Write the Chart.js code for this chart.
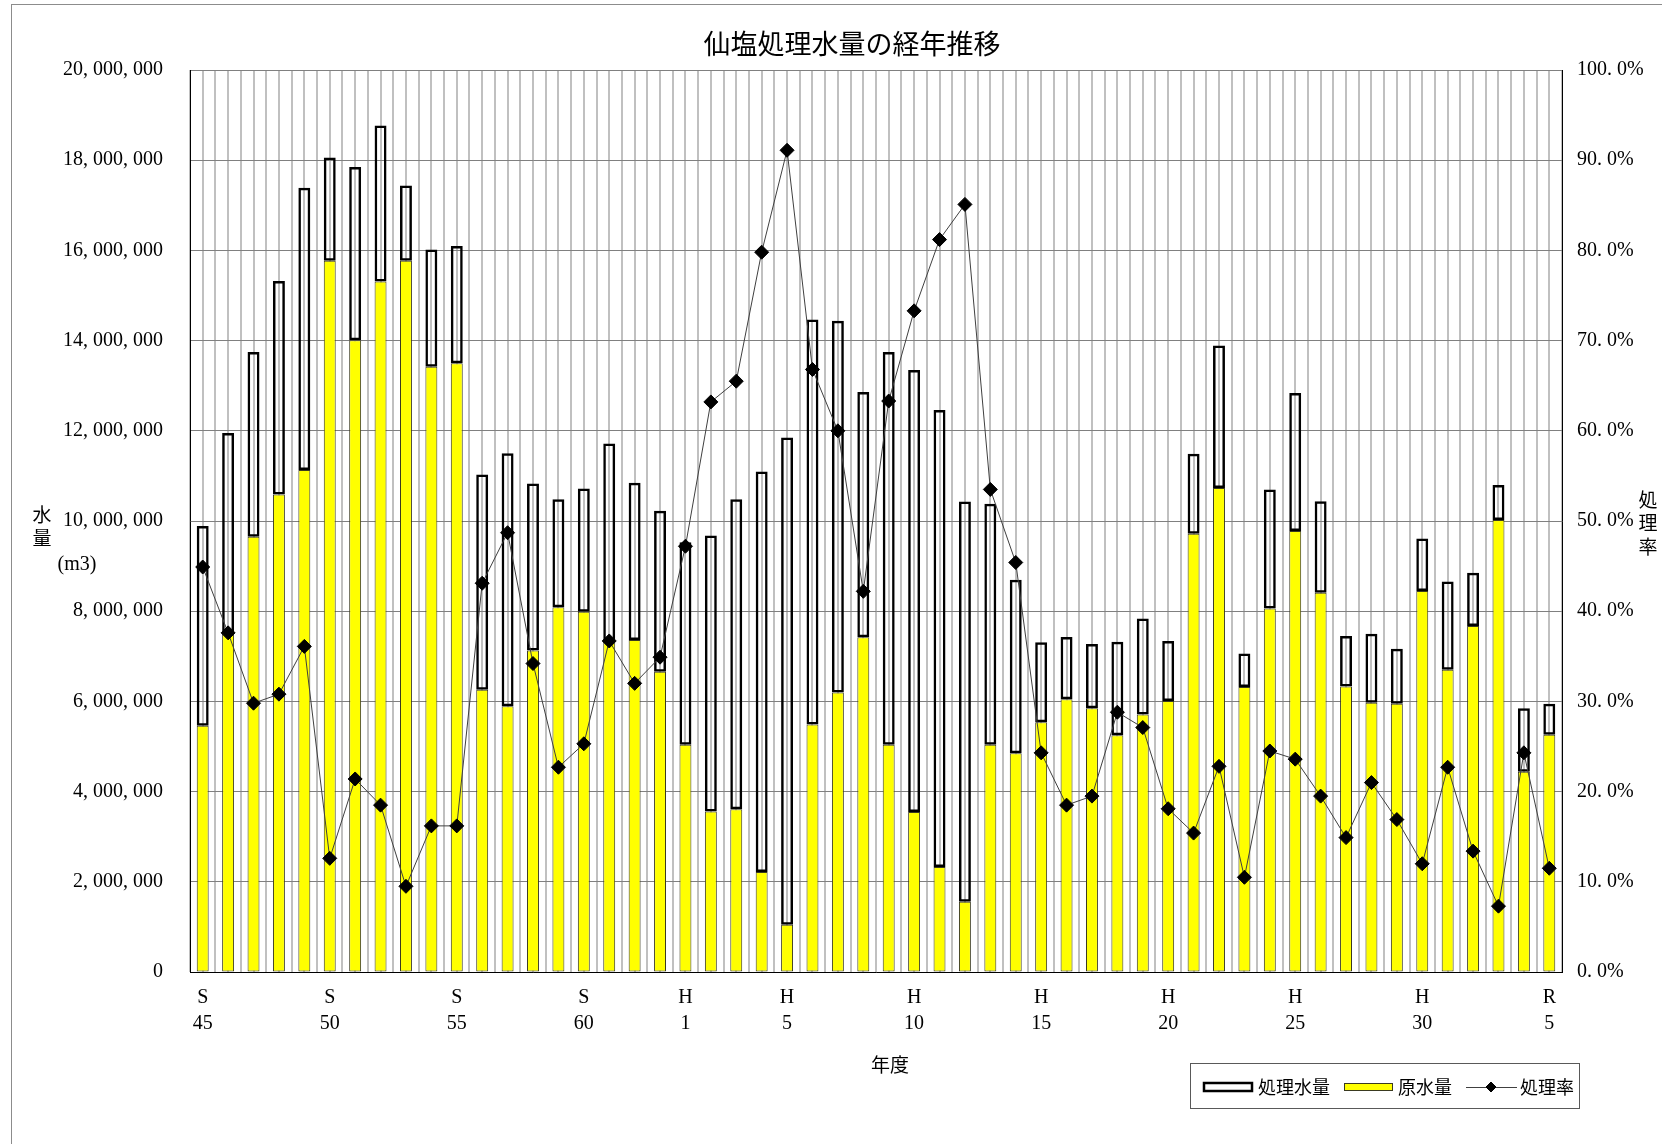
<!DOCTYPE html>
<html>
<head>
<meta charset="utf-8">
<script src="https://cdn.jsdelivr.net/npm/chart.js@4/dist/chart.umd.min.js"></script>
<style>
  body { margin: 0; background: #fff; }
  canvas { display: block; }
</style>
</head>
<body>
<canvas id="myChart" width="1662" height="1144"></canvas>
<script>
// 年度 (S45 - R5)
const years = [
  'S45','S46','S47','S48','S49','S50','S51','S52','S53','S54',
  'S55','S56','S57','S58','S59','S60','S61','S62','S63',
  'H1','H2','H3','H4','H5','H6','H7','H8','H9','H10',
  'H11','H12','H13','H14','H15','H16','H17','H18','H19','H20',
  'H21','H22','H23','H24','H25','H26','H27','H28','H29','H30',
  'R1','R2','R3','R4','R5'
];
const shownYears = ['S45','S50','S55','S60','H1','H5','H10','H15','H20','H25','H30','R5'];

// 原水量 (m3)
const rawWater = [
  5460000, 7530000, 9650000, 10590000, 11130000, 15770000, 14010000, 15310000, 15770000, 13420000,
  13500000, 6260000, 5890000, 7130000, 8090000, 7990000, 7340000, 7360000, 6660000, 5040000,
  3560000, 3610000, 2220000, 1050000, 5490000, 6200000, 7420000, 5040000, 3550000, 2330000,
  1560000, 5040000, 4850000, 5540000, 6050000, 5850000, 5250000, 5710000, 6010000, 9720000,
  10730000, 6320000, 8060000, 9780000, 8410000, 6330000, 5970000, 5950000, 8450000, 6700000,
  7670000, 10020000, 4440000, 5260000
];

// 処理水量 (m3)
const treatedWater = [
  4430000, 4420000, 4100000, 4730000, 6260000, 2290000, 3840000, 3460000, 1670000, 2600000,
  2600000, 4770000, 5610000, 3700000, 2390000, 2730000, 4380000, 3490000, 3570000, 4490000,
  6120000, 6870000, 8880000, 10800000, 8980000, 8240000, 5440000, 8710000, 9800000, 10130000,
  8870000, 5340000, 3850000, 1770000, 1380000, 1420000, 2070000, 2130000, 1330000, 1770000,
  3160000, 740000, 2640000, 3060000, 2030000, 1120000, 1530000, 1220000, 1160000, 1960000,
  1180000, 780000, 1410000, 690000
];

// 処理率 (%)
const treatRate = [
  44.9, 37.6, 29.8, 30.8, 36.1, 12.6, 21.4, 18.5, 9.5, 16.2,
  16.2, 43.1, 48.7, 34.2, 22.7, 25.3, 36.7, 32.0, 34.9, 47.2,
  63.2, 65.5, 79.8, 91.1, 66.8, 60.0, 42.2, 63.3, 73.3, 81.2,
  85.1, 53.5, 45.4, 24.3, 18.5, 19.5, 28.8, 27.1, 18.1, 15.4,
  22.8, 10.5, 24.5, 23.6, 19.5, 14.9, 21.0, 16.9, 12.0, 22.7,
  13.4, 7.3, 24.3, 11.5
];

const serif = '"Liberation Serif", "DejaVu Serif", serif';
const jp = '"Noto Sans CJK JP", sans-serif';
const gridGray = '#c0c0c0';

// 見出し・軸タイトル・凡例・外枠
const decorations = {
  id: 'decorations',
  beforeDraw(chart) {
    const ctx = chart.ctx;
    ctx.save();
    ctx.fillStyle = '#fff';
    ctx.fillRect(0, 0, chart.width, chart.height);
    ctx.restore();
  },
  afterDraw(chart) {
    const ctx = chart.ctx;
    const ds = chart.data.datasets;
    ctx.save();

    ctx.strokeStyle = '#8c8c8c';
    ctx.lineWidth = 1;
    ctx.strokeRect(11.5, 4.5, 1700, 1200);

    ctx.fillStyle = '#000';
    ctx.textAlign = 'center';
    ctx.textBaseline = 'middle';
    ctx.font = '27px ' + jp;
    ctx.fillText('仙塩処理水量の経年推移', 852, 44);

    ctx.font = '19px ' + jp;
    ctx.fillText('水', 42, 515);
    ctx.fillText('量', 42, 538);
    ctx.fillText('処', 1648, 500);
    ctx.fillText('理', 1648, 523);
    ctx.fillText('率', 1648, 547);
    ctx.fillText('年度', 890, 1065);
    ctx.font = '20px ' + serif;
    ctx.fillText('(m3)', 77, 565);

    // legend
    ctx.strokeStyle = '#595959';
    ctx.lineWidth = 1;
    ctx.strokeRect(1190.5, 1063.5, 389, 45);
    const cy = 1087;
    ctx.textAlign = 'left';
    ctx.font = '18px ' + jp;

    ctx.fillStyle = '#fff';
    ctx.fillRect(1204, cy - 4, 48, 8);
    ctx.strokeStyle = ds[1].borderColor;
    ctx.lineWidth = 2.5;
    ctx.strokeRect(1204, cy - 4, 48, 8);
    ctx.fillStyle = '#000';
    ctx.fillText(ds[1].label, 1258, cy);

    ctx.fillStyle = ds[0].backgroundColor;
    ctx.fillRect(1344, cy - 4, 49, 8);
    ctx.strokeStyle = ds[0].borderColor;
    ctx.lineWidth = 1;
    ctx.strokeRect(1344.5, cy - 3.5, 48, 7);
    ctx.fillStyle = '#000';
    ctx.fillText(ds[0].label, 1398, cy);

    ctx.strokeStyle = ds[2].borderColor;
    ctx.beginPath();
    ctx.moveTo(1466, cy + 0.5);
    ctx.lineTo(1517, cy + 0.5);
    ctx.stroke();
    ctx.fillStyle = '#000';
    ctx.strokeStyle = '#000';
    Chart.helpers.drawPoint(ctx, { pointStyle: 'rectRot', radius: 5, borderWidth: 1 }, 1491, cy);
    ctx.fillText(ds[2].label, 1520, cy);

    ctx.restore();
  }
};

const ctx = document.getElementById('myChart').getContext('2d');

const myChart = new Chart(ctx, {
  type: 'bar',
  data: {
    labels: years,
    datasets: [
      {
        label: '原水量',
        data: rawWater,
        backgroundColor: '#ffff00',
        borderColor: '#3a3a20',
        borderWidth: 1,
        borderSkipped: false,
        stack: 'water',
        order: 1,
        yAxisID: 'y'
      },
      {
        label: '処理水量',
        data: treatedWater,
        backgroundColor: 'rgba(255,255,255,0)',
        borderColor: '#000',
        borderWidth: 2.5,
        borderSkipped: false,
        stack: 'water',
        order: 1,
        yAxisID: 'y'
      },
      {
        type: 'line',
        label: '処理率',
        data: treatRate,
        borderColor: '#404040',
        borderWidth: 1,
        pointStyle: 'rectRot',
        pointRadius: 7,
        pointBackgroundColor: '#000',
        pointBorderColor: '#000',
        pointBorderWidth: 1,
        tension: 0,
        order: 0,
        yAxisID: 'y1'
      }
    ]
  },
  options: {
    responsive: false,
    animation: false,
    devicePixelRatio: 1,
    layout: { padding: { top: 70, left: 0, right: 0, bottom: 0 } },
    datasets: {
      bar: { categoryPercentage: 1, barPercentage: 0.47 }
    },
    plugins: {
      legend: { display: false },
      title: { display: false },
      tooltip: { enabled: false }
    },
    scales: {
      x: {
        type: 'category',
        position: 'bottom',
        offset: true,
        stacked: true,
        afterFit(scale) { scale.height = 172; },
        grid: { offset: true, color: gridGray, lineWidth: 2, drawTicks: false },
        border: { color: '#000', width: 1, z: 1 },
        ticks: {
          autoSkip: false,
          maxRotation: 0,
          minRotation: 0,
          padding: 13,
          color: '#000',
          font: { family: serif, size: 20, lineHeight: 1.3 },
          callback(v, i) {
            const lab = years[i];
            return shownYears.includes(lab) ? [lab[0], lab.slice(1)] : '';
          }
        }
      },
      xc: {
        type: 'category',
        position: 'top',
        offset: true,
        afterFit(scale) { scale.height = 0; },
        grid: { offset: false, color: gridGray, lineWidth: 2, drawTicks: false },
        border: { display: false },
        ticks: { display: false }
      },
      y: {
        position: 'left',
        stacked: true,
        min: 0,
        max: 20000000,
        afterFit(scale) { scale.width = 190; },
        grid: { color: '#808080', lineWidth: 1, drawTicks: false },
        border: { color: '#000', width: 1, z: 1 },
        ticks: {
          stepSize: 2000000,
          padding: 27,
          color: '#000',
          font: { family: serif, size: 20 },
          callback: v => v.toLocaleString('en-US').replace(/,/g, ', ')
        }
      },
      y1: {
        position: 'right',
        min: 0,
        max: 100,
        afterFit(scale) { scale.width = 100; },
        grid: { display: false, drawTicks: false },
        border: { color: '#000', width: 1, z: 1 },
        ticks: {
          stepSize: 10,
          padding: 15,
          color: '#000',
          font: { family: serif, size: 20 },
          callback: v => v.toFixed(1).replace('.', '. ') + '%'
        }
      }
    }
  },
  plugins: [decorations]
});
</script>
</body>
</html>
